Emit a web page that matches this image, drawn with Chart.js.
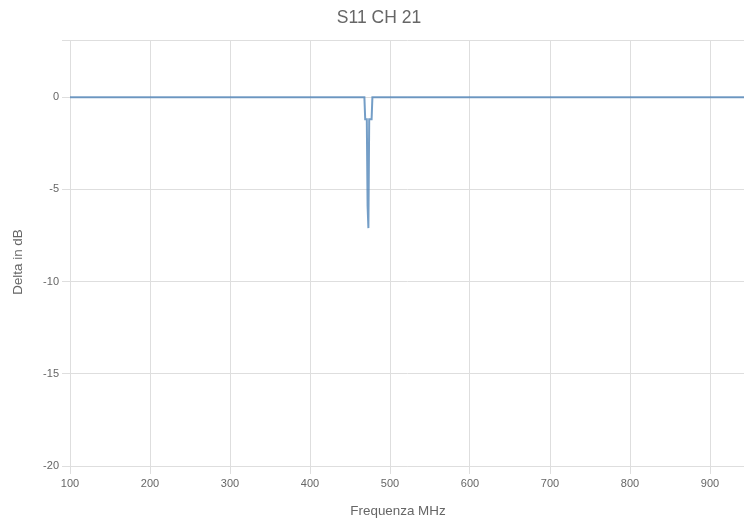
<!DOCTYPE html>
<html lang="it">
<head>
    <meta charset="UTF-8">
    <title>S11 CH 21</title>
    <script src="https://cdn.jsdelivr.net/npm/chart.js"></script>
    <style>
        body { margin: 0; background: #fff; overflow: hidden; }
        canvas { display: block; }
    </style>
</head>
<body>
    <canvas id="s11Chart" width="744" height="523"></canvas>
    <script>
        // frequenze in MHz e delta misurato in dB
        const freqs = [100, 468, 469, 471, 472, 473, 474, 477, 478, 942.5];
        const deltaDb = [0, 0, -1.2, -1.2, -5.9, -7.1, -1.2, -1.2, 0, 0];
        const xTicks = [100, 200, 300, 400, 500, 600, 700, 800, 900];
        const yTicks = [-20, -15, -10, -5, 0];

        const points = freqs.map((f, i) => ({ x: f, y: deltaDb[i] }));
        const gridColor = "#dedede";
        const textColor = "#666";
        const fontFamily = "'Liberation Sans', Arial, sans-serif";

        Chart.defaults.font.family = fontFamily;
        Chart.defaults.color = textColor;

        // titoli degli assi disegnati a mano per posizionarli come nel grafico originale
        const axisTitles = {
            id: "axisTitles",
            afterDraw(chart) {
                const ctx = chart.ctx;
                ctx.save();
                ctx.fillStyle = textColor;
                ctx.font = "13.4px " + fontFamily;
                ctx.textAlign = "center";
                ctx.textBaseline = "middle";
                ctx.fillText("Frequenza MHz", 398, 511);
                ctx.translate(18, 262);
                ctx.rotate(-Math.PI / 2);
                ctx.fillText("Delta in dB", 0, 0);
                ctx.restore();
            }
        };

        new Chart(document.getElementById("s11Chart"), {
            type: "line",
            data: {
                datasets: [{
                    label: "S11",
                    data: points,
                    borderColor: "rgba(70,125,180,0.75)",
                    borderWidth: 2,
                    pointRadius: 0,
                    tension: 0,
                    fill: false
                }]
            },
            options: {
                responsive: false,
                animation: false,
                layout: { padding: { left: 14 } },
                plugins: {
                    legend: { display: false },
                    title: {
                        display: true,
                        text: "S11 CH 21",
                        font: { size: 17.5, weight: "normal" },
                        color: textColor,
                        padding: { top: 8, bottom: 11 }
                    }
                },
                scales: {
                    x: {
                        type: "linear",
                        min: 100,
                        max: freqs[freqs.length - 1],
                        afterBuildTicks: s => { s.ticks = xTicks.map(v => ({ value: v })); },
                        afterFit: s => { s.height = 57; },
                        ticks: { font: { size: 11 }, maxRotation: 0 },
                        grid: { color: gridColor },
                        border: { color: gridColor }
                    },
                    y: {
                        min: -20,
                        max: 3.1,
                        afterBuildTicks: s => { s.ticks = yTicks.concat([3.1]).map(v => ({ value: v })); },
                        afterFit: s => { s.width = 56; },
                        ticks: {
                            font: { size: 11 },
                            callback: v => yTicks.includes(v) ? v : ""
                        },
                        grid: { color: gridColor },
                        border: { color: gridColor }
                    }
                }
            },
            plugins: [axisTitles]
        });
    </script>
</body>
</html>
